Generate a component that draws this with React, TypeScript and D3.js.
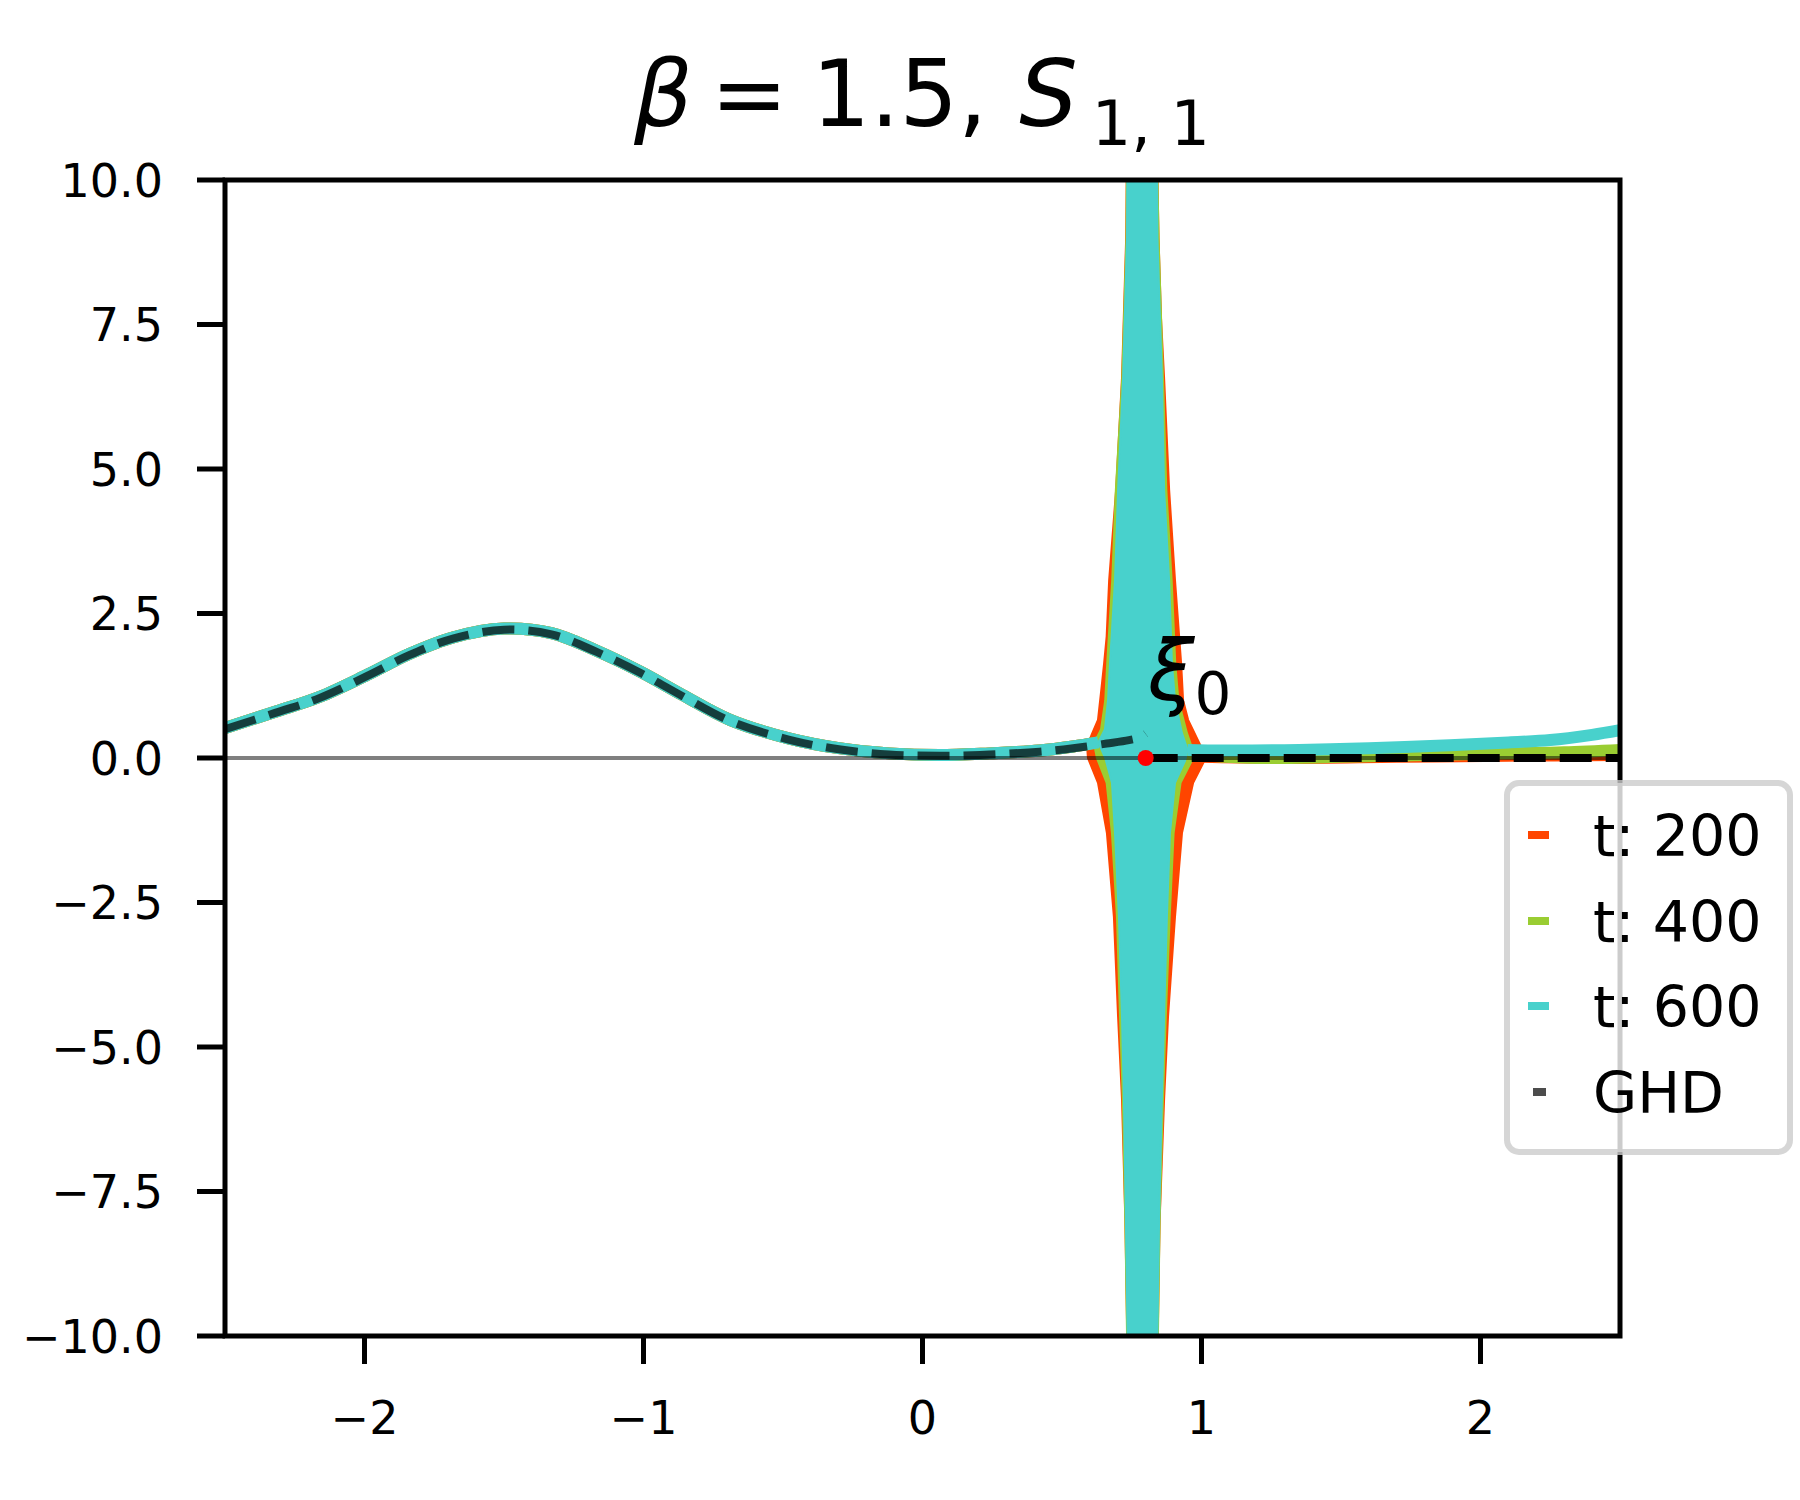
import React from 'react';
import * as d3 from 'd3';

// smooth part of the simulated curves (t: 200 / 400 / 600 overlap here)
const leftX = [-2.5, -2.32, -2.16, -1.99, -1.84, -1.68, -1.5, -1.33, -1.17, -1.01, -0.86, -0.69, -0.48, -0.3, -0.12, 0.06, 0.24, 0.42, 0.54, 0.63];
const leftY = [0.52, 0.8, 1.06, 1.44, 1.8, 2.09, 2.24, 2.16, 1.86, 1.49, 1.09, 0.66, 0.34, 0.17, 0.08, 0.05, 0.08, 0.13, 0.2, 0.27];

// right-hand side after the spike
const right200X = [1.0, 1.3, 1.7, 2.1, 2.5];
const right200Y = [0.02, 0.0, 0.02, 0.04, 0.05];
const right400X = [0.96, 1.2, 1.5, 1.8, 2.1, 2.3, 2.5];
const right400Y = [0.06, 0.0, 0.02, 0.05, 0.08, 0.1, 0.14];
const right600X = [0.95, 1.08, 1.35, 1.6, 1.89, 2.1, 2.25, 2.4, 2.5];
const right600Y = [0.14, 0.13, 0.14, 0.17, 0.22, 0.27, 0.31, 0.4, 0.48];

// outline of the oscillating spike around xi_0, [x, y]
const spike200 = [
  [0.59, 0.2], [0.606, 0.4], [0.629, 0.66], [0.642, 1.23], [0.651, 1.64], [0.66, 2.1], [0.669, 3.08], [0.694, 4.64], [0.715, 6.57], [0.73, 9.0], [0.733, 10.6],
  [0.84, 10.6], [0.846, 9.0], [0.855, 7.6], [0.866, 6.57], [0.884, 4.64], [0.905, 3.08], [0.927, 1.64], [0.934, 1.0], [0.952, 0.66], [0.988, 0.3], [1.013, 0.05],
  [1.01, -0.05], [0.97, -0.43], [0.93, -1.3], [0.905, -2.75], [0.88, -4.48], [0.866, -5.9], [0.85, -8.0], [0.841, -10.6],
  [0.736, -10.6], [0.727, -8.0], [0.715, -5.9], [0.701, -4.48], [0.686, -2.75], [0.661, -1.3], [0.629, -0.43], [0.593, 0.0],
];
const spike400 = [
  [0.615, 0.25], [0.64, 0.5], [0.655, 1.0], [0.662, 1.64], [0.68, 3.08], [0.693, 4.64], [0.716, 6.57], [0.731, 9.0], [0.733, 10.6],
  [0.84, 10.6], [0.846, 9.0], [0.862, 6.57], [0.874, 4.64], [0.893, 3.08], [0.906, 1.64], [0.917, 1.0], [0.948, 0.43], [0.97, 0.12],
  [0.965, -0.05], [0.925, -0.43], [0.9, -1.3], [0.886, -2.75], [0.872, -4.48], [0.862, -5.9], [0.85, -8.0], [0.842, -10.6],
  [0.735, -10.6], [0.727, -8.0], [0.718, -5.9], [0.708, -4.48], [0.697, -2.75], [0.679, -1.3], [0.66, -0.43], [0.625, 0.0],
];
const spike600 = [
  [0.63, 0.27], [0.654, 0.5], [0.665, 1.0], [0.672, 1.64], [0.69, 3.08], [0.701, 4.64], [0.719, 6.57], [0.733, 9.0], [0.735, 10.6],
  [0.84, 10.6], [0.842, 9.0], [0.858, 6.57], [0.866, 4.64], [0.884, 3.08], [0.894, 1.64], [0.905, 1.0], [0.93, 0.43], [0.95, 0.14],
  [0.941, -0.05], [0.905, -0.43], [0.887, -1.3], [0.876, -2.75], [0.866, -4.48], [0.858, -5.9], [0.848, -8.0], [0.84, -10.6],
  [0.737, -10.6], [0.729, -8.0], [0.722, -5.9], [0.715, -4.48], [0.704, -2.75], [0.69, -1.3], [0.679, -0.43], [0.655, 0.0],
];

// GHD prediction
const ghdX = [-2.5, -2.32, -2.16, -1.99, -1.84, -1.68, -1.5, -1.33, -1.17, -1.01, -0.86, -0.69, -0.48, -0.3, -0.12, 0.06, 0.24, 0.42, 0.54, 0.66, 0.74, 0.78, 0.8];
const ghdY = [0.5, 0.78, 1.04, 1.42, 1.78, 2.07, 2.22, 2.14, 1.84, 1.47, 1.07, 0.64, 0.32, 0.15, 0.06, 0.04, 0.06, 0.11, 0.17, 0.25, 0.31, 0.36, 0.42];
const ghdRightX = [0.8, 2.5];
const ghdRightY = [0, 0];

const xi0 = 0.8;

const xTicks = [-2, -1, 0, 1, 2];
const yTicks = [-10, -7.5, -5, -2.5, 0, 2.5, 5, 7.5, 10];

const legendLabels = ['t: 200', 't: 400', 't: 600', 'GHD'];
const colors = ['#ff4500', '#9acd32', '#48d1cc'];

const FONT = 'DejaVu Sans, Liberation Sans, sans-serif';
const fmt = (v: number, digits: number) => v.toFixed(digits).replace('-', '\u2212');

const App = () => {
  const W = 1800;
  const H = 1500;
  const left = 225, right = 1620, top = 180, bottom = 1336;

  const x = d3.scaleLinear().domain([-2.5, 2.5]).range([left, right]);
  const y = d3.scaleLinear().domain([-10, 10]).range([bottom, top]);

  const line = d3.line<[number, number]>()
    .x(d => x(d[0]))
    .y(d => y(d[1]))
    .curve(d3.curveCatmullRom);
  const poly = d3.line<number[]>()
    .x(d => x(d[0]))
    .y(d => y(d[1]))
    .curve(d3.curveLinearClosed);

  const zip = (xs: number[], ys: number[]) => xs.map((v, i) => [v, ys[i]] as [number, number]);

  const series = [
    { color: colors[0], spike: spike200, right: zip(right200X, right200Y) },
    { color: colors[1], spike: spike400, right: zip(right400X, right400Y) },
    { color: colors[2], spike: spike600, right: zip(right600X, right600Y) },
  ];
  const leftPts = zip(leftX, leftY);

  const legendX = 1507, legendY = 783;
  const rowY = [835, 921, 1006, 1092];

  return (
    <svg width={W} height={H} style={{ position: 'absolute', left: 0, top: 0, background: '#fff' }} fontFamily={FONT}>
      <rect x={0} y={0} width={W} height={H} fill="#fff" />
      <defs>
        <clipPath id="plotClip">
          <rect x={left} y={top} width={right - left} height={bottom - top} />
        </clipPath>
      </defs>

      {/* title: beta = 1.5, S_{1,1} */}
      <text x={922} y={126} fontSize={92} textAnchor="middle">
        <tspan fontStyle="italic">β</tspan>
        <tspan dx={18}>=</tspan>
        <tspan dx={24}>1.5,</tspan>
        <tspan dx={32} fontStyle="italic">S</tspan>
        <tspan fontSize={62} dy={19} dx={14}>1, 1</tspan>
      </text>

      <g clipPath="url(#plotClip)">
        {series.map((s, i) => (
          <g key={i}>
            <path d={poly(s.spike) || ''} fill={s.color} stroke={s.color} strokeWidth={2} />
            <path d={line(leftPts) || ''} fill="none" stroke={s.color} strokeWidth={12} strokeLinejoin="round" />
            <path d={line(s.right) || ''} fill="none" stroke={s.color} strokeWidth={12} strokeLinejoin="round" />
          </g>
        ))}
        <path d={line(zip(ghdX, ghdY)) || ''} fill="none" stroke="#000" strokeOpacity={0.7}
          strokeWidth={8} strokeDasharray="32,14" />
        <path d={line(zip(ghdRightX, ghdRightY)) || ''} fill="none" stroke="#000"
          strokeWidth={8} strokeDasharray="32,14" />
        <line x1={left} x2={right} y1={y(0)} y2={y(0)} stroke="#000" strokeOpacity={0.5} strokeWidth={4} />
        <circle cx={x(xi0)} cy={y(0)} r={8} fill="#ff0000" />
      </g>

      {/* xi_0 label */}
      <text x={x(xi0) + 2} y={y(1)} fontSize={84}>
        <tspan fontStyle="italic">ξ</tspan>
        <tspan fontSize={58} dy={14}>0</tspan>
      </text>

      {/* spines */}
      <rect x={left} y={top} width={right - left} height={bottom - top} fill="none" stroke="#000" strokeWidth={5} />

      {/* y axis */}
      {yTicks.map(t => (
        <g key={t}>
          <line x1={left - 28} x2={left} y1={y(t)} y2={y(t)} stroke="#000" strokeWidth={5} />
          <text x={163} y={y(t)} dy="0.364em" fontSize={46} textAnchor="end">{fmt(t, 1)}</text>
        </g>
      ))}

      {/* x axis */}
      {xTicks.map(t => (
        <g key={t}>
          <line x1={x(t)} x2={x(t)} y1={bottom} y2={bottom + 28} stroke="#000" strokeWidth={5} />
          <text x={x(t)} y={1434} fontSize={46} textAnchor="middle">{fmt(t, 0)}</text>
        </g>
      ))}

      {/* legend */}
      <rect x={legendX} y={legendY} width={283} height={369} rx={12} fill="#fff" fillOpacity={0.8}
        stroke="#cccccc" strokeOpacity={0.8} strokeWidth={6} />
      {legendLabels.map((lab, i) => (
        <g key={lab}>
          {i < 3 ? (
            <line x1={1528} x2={1549} y1={rowY[i]} y2={rowY[i]} stroke={colors[i]} strokeWidth={8} />
          ) : (
            <rect x={1533} y={rowY[i] - 4} width={13} height={8} fill="#000" fillOpacity={0.7} />
          )}
          <text x={1593} y={rowY[i] + 21} fontSize={57}>{lab}</text>
        </g>
      ))}
    </svg>
  );
};

export default App;
